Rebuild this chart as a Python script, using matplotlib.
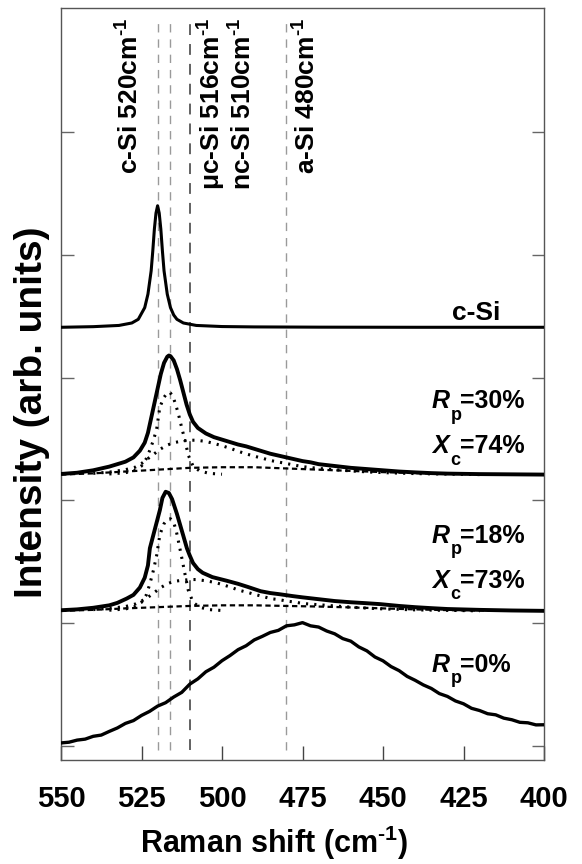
import matplotlib
matplotlib.use("Agg")
import matplotlib.pyplot as plt

plt.rcParams['font.family'] = ['Liberation Sans', 'DejaVu Sans']
plt.rcParams['mathtext.fontset'] = 'custom'
plt.rcParams['mathtext.rm'] = 'Liberation Sans:bold'
plt.rcParams['mathtext.it'] = 'Liberation Sans:bold:italic'
plt.rcParams['mathtext.bf'] = 'Liberation Sans:bold'

# ---- reference band positions (cm^-1) ----
band_pos = [520, 516, 510, 480]
band_label_x = [528.6, 503.0, 493.5, 473.6]
band_labels = [r'c-Si 520cm$^{\text{-1}}$', r'$\mathrm{\mu}$c-Si 516cm$^{\text{-1}}$',
               r'nc-Si 510cm$^{\text{-1}}$', r'a-Si 480cm$^{\text{-1}}$']
band_colors = ['#9a9a9a', '#9a9a9a', '#555555', '#9a9a9a']

# ---- vertical offsets of the stacked spectra ----
offsets = {'csi': 3.41, 'rp30': 2.21, 'rp18': 1.10, 'rp0': 0.0}

# ---- c-Si wafer spectrum ----
csi_x = [550, 540, 532, 528, 526, 524, 523, 522, 521.5, 521, 520.5, 520,
         519.5, 519, 518.5, 518, 517, 516, 515, 514, 512, 508, 500, 490, 470, 440, 400]
csi_y = [0.0, 0.005, 0.015, 0.035, 0.065, 0.16, 0.27, 0.46, 0.62, 0.8, 0.93, 0.99,
         0.93, 0.8, 0.62, 0.46, 0.27, 0.16, 0.1, 0.065, 0.035, 0.015, 0.006, 0.003,
         0.001, 0.0, 0.0]

# ---- Rp = 30 % : measured spectrum and fitted components ----
rp30_x = [550, 545, 540, 537.5, 535, 532.5, 530, 527.5, 525.5, 524, 523, 522, 521, 520,
          519, 518, 517, 516.5, 516, 515, 514, 513, 512, 511, 510, 509, 507.5, 505,
          502.5, 500, 497.5, 495, 492.5, 490, 487.5, 485, 482.5, 480, 477.5, 475,
          472.5, 470, 465, 460, 455, 450, 445, 440, 435, 430, 420, 410, 400]
rp30_y = [0.005, 0.015, 0.035, 0.05, 0.065, 0.085, 0.105, 0.14, 0.195, 0.26, 0.34, 0.46,
          0.58, 0.70, 0.82, 0.91, 0.96, 0.97, 0.965, 0.93, 0.86, 0.77, 0.67, 0.57, 0.49,
          0.43, 0.38, 0.335, 0.305, 0.285, 0.265, 0.245, 0.23, 0.21, 0.19, 0.17, 0.155,
          0.14, 0.125, 0.11, 0.10, 0.085, 0.07, 0.055, 0.045, 0.035, 0.025, 0.018,
          0.012, 0.008, 0.004, 0.002, 0.0]
rp30_c_x = [535, 530, 527, 525, 523.5, 522.4, 521.3, 520.3, 519.3, 518, 517, 516.2,
            515.3, 514.5, 513.6, 512.4, 511.5, 510.5, 509, 507, 504, 500]
rp30_c_y = [0.005, 0.015, 0.035, 0.07, 0.13, 0.2, 0.28, 0.37, 0.55, 0.63, 0.665, 0.67,
            0.64, 0.58, 0.5, 0.37, 0.28, 0.16, 0.07, 0.03, 0.01, 0.003]
rp30_m_x = [540, 535, 530, 527, 525, 523, 521, 519, 517, 515, 512, 510, 508, 505, 502,
            500, 497, 495, 492, 490, 487, 485, 482, 480, 477, 475, 470, 465, 460, 455,
            450, 440, 430, 420]
rp30_m_y = [0.01, 0.02, 0.04, 0.06, 0.09, 0.13, 0.17, 0.21, 0.24, 0.26, 0.275, 0.28,
            0.28, 0.27, 0.25, 0.235, 0.21, 0.19, 0.165, 0.15, 0.13, 0.115, 0.1, 0.09,
            0.075, 0.065, 0.05, 0.04, 0.03, 0.022, 0.016, 0.008, 0.004, 0.0]
rp30_a_x = [550, 540, 530, 520, 510, 500, 490, 480, 470, 460, 450, 440, 430, 420, 410, 400]
rp30_a_y = [0.0, 0.01, 0.025, 0.04, 0.055, 0.06, 0.06, 0.05, 0.04, 0.03, 0.02, 0.012,
            0.006, 0.003, 0.001, 0.0]

# ---- Rp = 18 % : measured spectrum and fitted components ----
rp18_x = [550, 545, 540, 535, 532.5, 529.6, 527.5, 525.5, 524, 523, 522.4, 521, 520,
          519.3, 518.5, 517.5, 516.5, 515.5, 514, 513, 512, 510.9, 510, 509, 507.5, 506,
          503, 500, 498.5, 495, 492, 488, 485, 482, 478, 475, 470, 465, 460, 455, 451,
          445, 440, 435, 430, 420, 410, 400]
rp18_y = [0.005, 0.012, 0.025, 0.045, 0.065, 0.1, 0.13, 0.19, 0.27, 0.37, 0.51, 0.65,
          0.75, 0.82, 0.92, 0.97, 0.96, 0.91, 0.79, 0.70, 0.61, 0.51, 0.45, 0.39, 0.34,
          0.31, 0.275, 0.255, 0.245, 0.22, 0.195, 0.16, 0.145, 0.135, 0.12, 0.11, 0.095,
          0.08, 0.07, 0.062, 0.055, 0.04, 0.03, 0.022, 0.015, 0.008, 0.003, 0.0]
rp18_c_x = [535, 530, 527, 525, 523.5, 522.4, 521.3, 520.3, 519.3, 518, 517, 516,
            515, 514.2, 513.4, 512.4, 511.5, 510.5, 509, 507, 504, 500]
rp18_c_y = [0.005, 0.015, 0.035, 0.07, 0.13, 0.22, 0.33, 0.45, 0.62, 0.71, 0.745, 0.75,
            0.72, 0.65, 0.55, 0.42, 0.3, 0.17, 0.07, 0.03, 0.01, 0.003]
rp18_m_x = rp30_m_x
rp18_m_y = [0.01, 0.02, 0.035, 0.055, 0.08, 0.11, 0.15, 0.19, 0.22, 0.24, 0.25, 0.255,
            0.255, 0.245, 0.23, 0.215, 0.19, 0.17, 0.15, 0.135, 0.115, 0.1, 0.09, 0.08,
            0.07, 0.06, 0.05, 0.04, 0.03, 0.022, 0.016, 0.008, 0.004, 0.0]
rp18_a_x = rp30_a_x
rp18_a_y = [0.0, 0.008, 0.02, 0.03, 0.04, 0.045, 0.045, 0.04, 0.035, 0.028, 0.02,
            0.012, 0.006, 0.003, 0.001, 0.0]

# ---- Rp = 0 % : amorphous film ----
rp0_x = [550, 547.5, 545, 542.5, 540, 537.5, 535, 532.5, 530, 527.5, 525, 522.5, 520,
         517.5, 515, 512.5, 510, 507.5, 505, 502.5, 500, 497.5, 495, 492.5, 490, 487.5,
         485, 482.5, 480, 477.5, 475, 472.5, 470, 467.5, 465, 462.5, 460, 457.5, 455,
         452.5, 450, 447.5, 445, 442.5, 440, 437.5, 435, 432.5, 430, 427.5, 425, 422.5,
         420, 417.5, 415, 412.5, 410, 407.5, 405, 402.5, 400]
rp0_y = [0.024, 0.03, 0.047, 0.055, 0.078, 0.088, 0.118, 0.146, 0.183, 0.206, 0.248,
         0.281, 0.324, 0.352, 0.398, 0.436, 0.503, 0.546, 0.604, 0.641, 0.694, 0.736,
         0.784, 0.816, 0.863, 0.892, 0.924, 0.941, 0.978, 0.986, 1.004, 0.978, 0.968,
         0.936, 0.913, 0.874, 0.853, 0.806, 0.774, 0.724, 0.693, 0.646, 0.613, 0.566,
         0.534, 0.497, 0.468, 0.426, 0.403, 0.366, 0.343, 0.306, 0.288, 0.262, 0.253,
         0.226, 0.213, 0.192, 0.188, 0.171, 0.172]

x_ticks = [550, 525, 500, 475, 450, 425, 400]

fig = plt.figure(figsize=(5.82, 8.64), dpi=100)
ax = fig.add_axes([61 / 582, 1 - 760 / 864, (544 - 61) / 582, (760 - 7.5) / 864])

# dashed guides at the reference band positions
for xp, col in zip(band_pos, band_colors):
    ax.axvline(xp, ymin=0.013, ymax=0.983, color=col, lw=1.3 if col == '#555555' else 1.0,
               ls=(0, (6, 5)), zorder=1)


def shifted(vals, key):
    return [v + offsets[key] for v in vals]


dot = (0, (0.7, 2.0))
dash = (0, (2.4, 1.6))

ax.plot(csi_x, shifted(csi_y, 'csi'), color='black', lw=2.2, zorder=3)

for key, sx, sy, cx, cy, mx, my, axx, ayy in [
        ('rp30', rp30_x, rp30_y, rp30_c_x, rp30_c_y, rp30_m_x, rp30_m_y, rp30_a_x, rp30_a_y),
        ('rp18', rp18_x, rp18_y, rp18_c_x, rp18_c_y, rp18_m_x, rp18_m_y, rp18_a_x, rp18_a_y)]:
    ax.plot(cx, shifted(cy, key), color='black', lw=2.2, ls=dot, zorder=2)
    ax.plot(mx, shifted(my, key), color='black', lw=2.2, ls=dot, zorder=2)
    ax.plot(axx, shifted(ayy, key), color='black', lw=1.6, ls=dash, zorder=2)
    ax.plot(sx, shifted(sy, key), color='black', lw=2.8, zorder=3)

ax.plot(rp0_x, shifted(rp0_y, 'rp0'), color='black', lw=2.4, zorder=3)

# band labels along the top
for xp, lab in zip(band_label_x, band_labels):
    ax.text(xp, 5.93, lab, rotation=90, ha='center', va='top', fontsize=19,
            fontweight='bold')


# sample labels: main symbol, lowered subscript, then value
def sample_label(x, y, main, sub, rest):
    ax.annotate(main, (x, y), fontsize=18, fontweight='bold', style='italic',
                ha='left', va='baseline')
    ax.annotate(sub, (x, y), xytext=(13.4, -8.3), textcoords='offset points',
                fontsize=13, fontweight='bold', ha='left', va='baseline')
    ax.annotate(rest, (x, y), xytext=(20.2, 0), textcoords='offset points',
                fontsize=18, fontweight='bold', ha='left', va='baseline')


ax.text(428.6, 3.469, 'c-Si', fontsize=19, fontweight='bold', ha='left', va='baseline')
sample_label(434.8, 2.75, 'R', 'p', '=30%')
sample_label(434.8, 2.386, 'X', 'c', '=74%')
sample_label(434.8, 1.653, 'R', 'p', '=18%')
sample_label(434.8, 1.287, 'X', 'c', '=73%')
sample_label(434.8, 0.603, 'R', 'p', '=0%')

ax.set_xlim(550, 400)
ax.set_ylim(-0.115, 6.015)
ax.set_xticks(x_ticks)
ax.set_xticklabels([str(t) for t in x_ticks], fontsize=21, fontweight='bold')
ax.set_yticks([0, 1, 2, 3, 4, 5])
ax.set_yticklabels([])
ax.tick_params(axis='x', direction='in', length=10, width=1, color='#444444', pad=18)
ax.tick_params(axis='y', direction='in', length=9, width=1, color='#666666',
               left=True, right=True)
for sp in ax.spines.values():
    sp.set_color('#555555')
    sp.set_linewidth(1.0)

ax.set_xlabel(r'Raman shift (cm$^{\text{-1}}$)', fontsize=22, fontweight='bold')
ax.xaxis.set_label_coords(0.441, -0.084)
ax.set_ylabel('Intensity (arb. units)', fontsize=28, fontweight='bold')
ax.yaxis.set_label_coords(-0.022, 0.4625)

fig.savefig('out.png', dpi=100)
